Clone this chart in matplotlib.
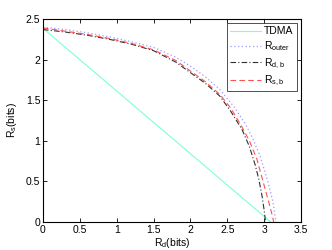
import numpy as np
import matplotlib
matplotlib.use('Agg')
from matplotlib import pyplot as plt

plt.rcParams['font.family'] = ['Liberation Sans', 'DejaVu Sans']
plt.rcParams['mathtext.fontset'] = 'custom'
plt.rcParams['mathtext.rm'] = 'Liberation Sans'

# TDMA line
tdma_x = [0, 3.09]
tdma_y = [2.385, 0]

# outer bound
outer_x = [0, 0.3, 0.6, 0.9, 1.2, 1.5, 1.8, 2.0, 2.2, 2.4, 2.6, 2.75, 2.85, 2.95, 3.05, 3.12, 3.16]
outer_y = [2.40, 2.37, 2.33, 2.28, 2.22, 2.15, 2.03, 1.92, 1.79, 1.63, 1.41, 1.20, 1.02, 0.80, 0.50, 0.25, 0.0]

# R_d,b
db_x = [0, 0.3, 0.6, 0.9, 1.2, 1.5, 1.8, 2.0, 2.2, 2.4, 2.55, 2.7, 2.8, 2.88, 2.93, 2.97, 3.0, 3.02]
db_y = [2.37, 2.34, 2.30, 2.25, 2.19, 2.11, 1.97, 1.84, 1.71, 1.55, 1.36, 1.14, 0.93, 0.70, 0.52, 0.33, 0.15, 0.0]

# R_s,b
sb_x = [0, 0.3, 0.6, 0.9, 1.2, 1.5, 1.8, 2.0, 2.2, 2.4, 2.55, 2.7, 2.8, 2.9, 2.97, 3.04, 3.1, 3.13]
sb_y = [2.39, 2.35, 2.31, 2.26, 2.20, 2.12, 1.99, 1.86, 1.73, 1.57, 1.40, 1.17, 1.00, 0.78, 0.55, 0.32, 0.12, 0.0]

xticks = [0, 0.5, 1, 1.5, 2, 2.5, 3, 3.5]
yticks = [0, 0.5, 1, 1.5, 2, 2.5]

fig = plt.figure(figsize=(3.32, 2.5), dpi=100)
ax = fig.add_axes([0.1295, 0.112, 0.777, 0.812])

ax.plot(tdma_x, tdma_y, color='#7fffd4', lw=0.8, label='TDMA')
ax.plot(outer_x, outer_y, color='#9a9aff', lw=0.9, ls=(0, (1, 2)), label=r'R$_{\mathrm{outer}}$')
ax.plot(db_x, db_y, color='#303030', lw=0.8, ls=(0, (5, 2, 1, 2)), label=r'R$_{\mathrm{d,b}}$')
ax.plot(sb_x, sb_y, color='#ff5050', lw=0.8, ls=(0, (5, 3)), label=r'R$_{\mathrm{s,b}}$')

ax.set_xlim(0, 3.5)
ax.set_ylim(0, 2.5)
ax.set_xticks(xticks)
ax.set_xticklabels(['0', '0.5', '1', '1.5', '2', '2.5', '3', '3.5'])
ax.set_yticks(yticks)
ax.set_yticklabels(['0', '0.5', '1', '1.5', '2', '2.5'])
ax.tick_params(direction='in', top=True, right=True, labelsize=7.5, length=3, width=0.6, pad=2)
for s in ax.spines.values():
    s.set_linewidth(0.8)

ax.set_xlabel(r'R$_{\mathrm{d}}$(bits)', fontsize=7.5, labelpad=1)
ax.set_ylabel(r'R$_{\mathrm{s}}$(bits)', fontsize=7.5, labelpad=5)

leg = ax.legend(loc='upper right', fontsize=7.5, frameon=True, fancybox=False,
                edgecolor='black', handlelength=3, borderpad=0.3, labelspacing=0.3,
                borderaxespad=0.4, handletextpad=0.3)
leg.get_frame().set_linewidth(0.6)

fig.savefig('out.png', dpi=100)
